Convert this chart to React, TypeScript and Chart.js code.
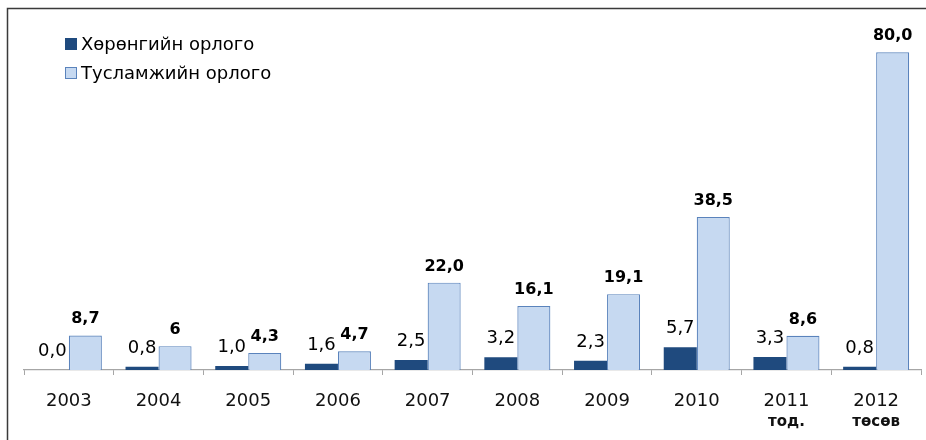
import React, { useEffect, useRef } from "react";
import { Chart, registerables } from "chart.js";

Chart.register(...registerables);

const categories = ["2003", "2004", "2005", "2006", "2007", "2008", "2009", "2010", "2011", "2012"];
const subLabels = ["", "", "", "", "", "", "", "", "тод.", "төсөв"];
const seriesNames = ["Хөрөнгийн орлого", "Тусламжийн орлого"];
const assetIncome = [0.0, 0.8, 1.0, 1.6, 2.5, 3.2, 2.3, 5.7, 3.3, 0.8];
const aidIncome = [8.7, 6, 4.3, 4.7, 22.0, 16.1, 19.1, 38.5, 8.6, 80.0];
const assetLabels = ["0,0", "0,8", "1,0", "1,6", "2,5", "3,2", "2,3", "5,7", "3,3", "0,8"];
const aidLabels = ["8,7", "6", "4,3", "4,7", "22,0", "16,1", "19,1", "38,5", "8,6", "80,0"];

const DARK = "#1F4A7E";
const LIGHT = "#C6D9F1";
const LIGHT_BORDER = "#5A83BC";
const FONT = "'DejaVu Sans', sans-serif";

export default function App() {
  const ref = useRef<HTMLCanvasElement | null>(null);

  useEffect(() => {
    if (!ref.current) return;
    const extras = {
      id: "extras",
      afterDatasetsDraw(chart: any) {
        const ctx = chart.ctx;
        ctx.save();
        ctx.textAlign = "center";
        ctx.textBaseline = "alphabetic";
        ctx.fillStyle = "#000";
        const m0 = chart.getDatasetMeta(0);
        ctx.font = `18px ${FONT}`;
        m0.data.forEach((bar: any, j: number) => {
          ctx.fillText(assetLabels[j], bar.x, bar.y - 14);
        });
        const m1 = chart.getDatasetMeta(1);
        ctx.font = `bold 16px ${FONT}`;
        m1.data.forEach((bar: any, j: number) => {
          ctx.fillText(aidLabels[j], bar.x, bar.y - 12);
        });
        ctx.restore();
      },
      afterDraw(chart: any) {
        const ctx = chart.ctx;
        const x = chart.scales.x;
        const area = chart.chartArea;
        ctx.save();
        // second-line category labels
        ctx.textAlign = "center";
        ctx.textBaseline = "alphabetic";
        ctx.fillStyle = "#111";
        ctx.font = `bold 15px ${FONT}`;
        subLabels.forEach((s, i) => {
          if (s) ctx.fillText(s, x.getPixelForValue(i), area.bottom + 56);
        });
        // legend
        const ds = chart.data.datasets;
        ctx.font = `18px ${FONT}`;
        ctx.textAlign = "left";
        ctx.fillStyle = "#000";
        seriesNames.forEach((name, i) => {
          const y = 38 + i * 29;
          ctx.fillStyle = ds[i].backgroundColor;
          ctx.fillRect(65.5, y, 11, 11);
          ctx.strokeStyle = ds[i].borderColor;
          ctx.lineWidth = 1;
          ctx.strokeRect(65.5, y + 0.5, 11, 11);
          ctx.fillStyle = "#000";
          ctx.fillText(name, 81, y + 12);
        });
        // frame
        ctx.strokeStyle = "#3a3a3a";
        ctx.lineWidth = 1.5;
        ctx.beginPath();
        ctx.moveTo(7.5, 440);
        ctx.lineTo(7.5, 8.5);
        ctx.lineTo(926, 8.5);
        ctx.stroke();
        ctx.restore();
      },
    };

    const chart = new Chart(ref.current, {
      type: "bar",
      data: {
        labels: categories,
        datasets: [
          {
            label: seriesNames[0],
            data: assetIncome,
            backgroundColor: DARK,
            borderColor: DARK,
            borderWidth: 0,
            categoryPercentage: 0.736,
            barPercentage: 1,
          },
          {
            label: seriesNames[1],
            data: aidIncome,
            backgroundColor: LIGHT,
            borderColor: LIGHT_BORDER,
            borderWidth: 1.2,
            categoryPercentage: 0.736,
            barPercentage: 1,
          },
        ],
      },
      options: {
        responsive: false,
        animation: false,
        events: [],
        layout: { padding: { left: 24, right: 5, top: 12.6, bottom: 11.4 } },
        plugins: {
          legend: { display: false },
          tooltip: { enabled: false },
        },
        scales: {
          x: {
            offset: true,
            grid: {
              display: true,
              drawOnChartArea: false,
              drawTicks: true,
              tickLength: 5,
              color: "#a6a6a6",
              offset: true,
            },
            border: { display: true, color: "#a6a6a6", width: 1.2 },
            ticks: {
              color: "#111",
              font: { family: FONT, size: 18 },
              padding: 16,
              maxRotation: 0,
              autoSkip: false,
            },
          },
          y: {
            display: false,
            min: 0,
            max: 90,
          },
        },
      },
      plugins: [extras],
    });
    return () => chart.destroy();
  }, []);

  return (
    <div style={{ position: "absolute", left: 0, top: 0, width: 926, height: 440, background: "#fff" }}>
      <canvas ref={ref} width={926} height={440} style={{ display: "block" }} />
    </div>
  );
}
